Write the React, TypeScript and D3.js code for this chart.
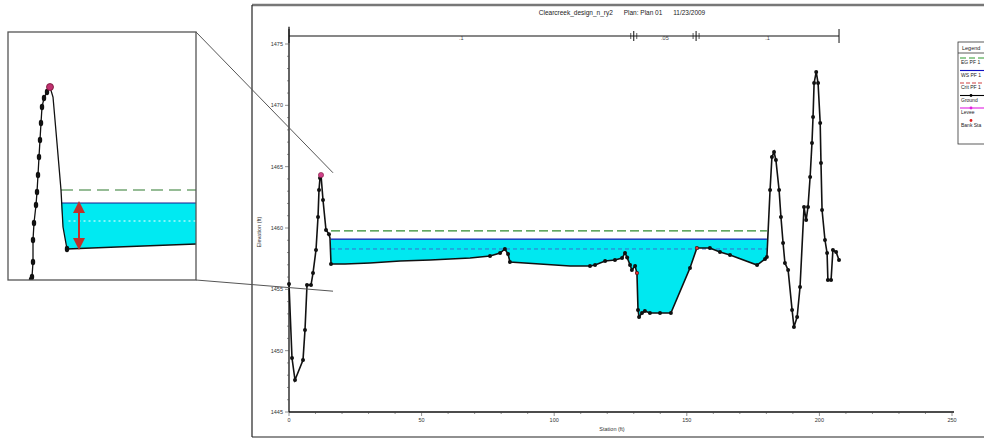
import React from "react";
import * as d3 from "d3";

const titleText = "Clearcreek_design_n_ry2      Plan: Plan 01      11/23/2009";
const xTicks = [0, 50, 100, 150, 200, 250];
const yTicks = [1445, 1450, 1455, 1460, 1465, 1470, 1475];

const groundStation = [0, 1.13, 2.26, 5.28, 6.03, 6.79, 8.3, 9.05, 10.18, 10.94, 11.31, 11.69, 12.07, 12.82, 13.95, 15.08, 15.46, 15.84, 21.1, 30.5, 41.9, 53.2, 68.3, 75.8, 79.6, 81.4, 82.6, 83.3, 94.6, 106.0, 113.5, 115.4, 119.2, 122.9, 125.6, 126.7, 127.5, 128.6, 129.3, 130.5, 131.2, 131.6, 132.0, 133.1, 134.2, 136.1, 139.9, 144.0, 151.2, 153.8, 158.7, 162.5, 166.3, 176.5, 179.5, 180.2, 181.4, 182.1, 182.9, 183.6, 184.8, 185.5, 186.3, 187.0, 188.2, 189.7, 190.4, 191.6, 192.7, 194.2, 195.0, 195.7, 196.5, 197.2, 197.6, 198.0, 198.8, 199.5, 200.3, 200.6, 201.0, 202.1, 202.9, 203.2, 204.4, 205.1, 206.3, 207.4];
const groundElev = [1455.43, 1449.4, 1447.61, 1449.24, 1451.68, 1455.35, 1455.35, 1456.33, 1458.21, 1460.9, 1463.1, 1464.08, 1464.32, 1462.28, 1459.84, 1459.5, 1459.18, 1457.06, 1457.06, 1457.15, 1457.31, 1457.39, 1457.55, 1457.72, 1457.96, 1458.29, 1457.88, 1457.23, 1457.06, 1456.9, 1456.9, 1456.98, 1457.31, 1457.39, 1457.55, 1457.96, 1457.6, 1456.98, 1456.58, 1456.9, 1456.33, 1453.32, 1452.74, 1453.07, 1453.23, 1453.07, 1453.07, 1453.07, 1456.74, 1458.37, 1458.37, 1458.04, 1457.8, 1456.98, 1457.47, 1457.64, 1463.1, 1465.79, 1466.2, 1465.54, 1463.1, 1460.9, 1458.78, 1457.15, 1456.58, 1453.32, 1451.93, 1452.74, 1455.19, 1461.71, 1460.65, 1461.71, 1464.16, 1466.93, 1469.05, 1471.82, 1472.72, 1471.82, 1468.56, 1465.3, 1461.47, 1459.02, 1457.96, 1455.76, 1455.76, 1458.21, 1458.04, 1457.39];
const groundDot = [1, 1, 1, 1, 1, 1, 1, 1, 1, 1, 1, 1, 1, 1, 1, 1, 0, 1, 0, 0, 0, 0, 0, 1, 1, 1, 1, 1, 0, 0, 1, 1, 1, 1, 1, 1, 1, 1, 1, 1, 1, 1, 1, 1, 1, 1, 1, 1, 1, 1, 1, 1, 1, 1, 1, 1, 1, 1, 1, 1, 1, 1, 1, 1, 1, 1, 1, 1, 1, 1, 1, 1, 1, 1, 1, 1, 1, 1, 1, 1, 1, 1, 1, 1, 1, 1, 1, 1];

const wsElev = 1459.1;
const egElev = 1459.76;
const critElev = 1458.29;
const waterLeft = 15.84;
const waterRight = 180.2;
const leveeStation = [12.07];
const leveeElev = [1464.32];
const bankStation = [131.2, 153.8];
const bankElev = [1456.33, 1458.37];

const nBreaks = [0, 130, 153.5, 207.4];
const nLabels = [".1", ".05", ".1"];

// inset (schematic zoom of left bank) in its own units 0..100
const insetX = [12.23, 12.77, 13.3, 13.3, 13.83, 14.89, 15.43, 15.96, 16.49, 17.02, 17.55, 18.09, 19.15, 20.74, 22.34, 23.94, 26.06, 28.19, 29.26, 31.38, 57.98, 100];
const insetY = [0, 1.21, 7.26, 16.13, 22.98, 30.24, 35.48, 42.34, 49.6, 56.45, 63.31, 69.76, 73.39, 75.81, 77.82, 73.79, 55.24, 36.29, 21.37, 12.5, 13.31, 14.52];
const insetDot = [1, 1, 1, 1, 1, 1, 1, 1, 1, 1, 1, 1, 1, 1, 0, 0, 0, 0, 0, 1, 0, 0];
const insetWS = 31.05;
const insetEG = 36.29;
const insetCrit = 23.79;
const insetWaterLeft = 28.19;
const insetArrowX = 37.77;
const insetArrowBottom = 12.9;
const insetPeak = [22.34, 77.82];
const insetTargetStation = 16.6;
const insetTargetTop = 1464.5;
const insetTargetBottom = 1454.85;

const legendLabels = ["EG PF 1", "WS PF 1", "Crit PF 1", "Ground", "Levee", "Bank Sta"];

const FONT = "'Liberation Sans', Arial, sans-serif";

export default function App() {
  const x = d3.scaleLinear().domain([0, 250]).range([289, 952]);
  const y = d3.scaleLinear().domain([1445, 1475]).range([412, 44]);

  const ground = groundStation.map((s, i) => ({ s, e: groundElev[i], dot: groundDot[i] }));
  const groundLine = d3.line<any>().x((d) => x(d.s)).y((d) => y(d.e));

  const wet = ground.filter((d) => d.s >= waterLeft && d.s <= waterRight);
  const waterArea = d3
    .area<any>()
    .x((d) => x(d.s))
    .y0((d) => y(Math.min(d.e, wsElev)))
    .y1(() => y(wsElev));

  const xMinor = d3.range(0, 251, 10);
  const yMinor = d3.range(1445, 1476, 1);

  const ix = d3.scaleLinear().domain([0, 100]).range([8, 196]);
  const iy = d3.scaleLinear().domain([0, 100]).range([280, 32]);
  const inset = insetX.map((v, i) => ({ s: v, e: insetY[i], dot: insetDot[i] }));
  const insetLine = d3.line<any>().x((d) => ix(d.s)).y((d) => iy(d.e));
  const insetWet = inset.filter((d) => d.s >= insetWaterLeft);
  const insetArea = d3
    .area<any>()
    .x((d) => ix(d.s))
    .y0((d) => iy(Math.min(d.e, insetWS)))
    .y1(() => iy(insetWS));

  const legendColors = ["#2e9a2e", "#1010c0", "#d04040", "#000000", "#e020e0", "#e02020"];
  const legendDash = ["6,3", "", "4,2", "", "", ""];

  return (
    <svg
      width={984}
      height={439}
      style={{ position: "absolute", left: 0, top: 0, background: "#fff" }}
      fontFamily={FONT}
    >
      <defs>
        <clipPath id="insetClip">
          <rect x={8} y={32} width={188} height={248} />
        </clipPath>
        <marker id="arrowHead" markerWidth="6" markerHeight="6" refX="3" refY="3" orient="auto-start-reverse">
          <path d="M0,0 L6,3 L0,6 z" fill="#c0302a" />
        </marker>
      </defs>

      <line x1={252} y1={5} x2={984} y2={5} stroke="#777" strokeWidth={2.5} />
      <line x1={252} y1={5} x2={252} y2={437} stroke="#222" strokeWidth={1.2} />
      <line x1={252} y1={437} x2={984} y2={437} stroke="#222" strokeWidth={1.2} />

      <text x={622} y={15} fontSize={6.5} textAnchor="middle" fill="#222" xmlSpace="preserve">
        {titleText}
      </text>

      <path d={waterArea(wet) || ""} fill="#00e8f0" />
      <line x1={x(waterLeft)} x2={x(waterRight)} y1={y(egElev)} y2={y(egElev)} stroke="#2e8a2e" strokeWidth={1.2} strokeDasharray="9,4" />
      <line x1={x(waterLeft)} x2={x(waterRight)} y1={y(wsElev)} y2={y(wsElev)} stroke="#1a1ab0" strokeWidth={1.2} />
      <line x1={x(waterLeft)} x2={x(waterRight)} y1={y(critElev)} y2={y(critElev)} stroke="#3b6fd0" strokeWidth={1} strokeDasharray="4,3" />

      <path d={groundLine(ground) || ""} fill="none" stroke="#111" strokeWidth={1.6} />
      {ground.filter((d) => d.dot).map((d, i) => (
        <circle key={i} cx={x(d.s)} cy={y(d.e)} r={2} fill="#111" />
      ))}
      {leveeStation.map((s, i) => (
        <circle key={"lv" + i} cx={x(s)} cy={y(leveeElev[i])} r={2.6} fill="#d0408a" stroke="#802040" strokeWidth={0.6} />
      ))}
      {bankStation.map((s, i) => (
        <circle key={"bk" + i} cx={x(s)} cy={y(bankElev[i])} r={1.6} fill="#e03030" />
      ))}

      <line x1={x(0)} x2={x(0)} y1={y(1445)} y2={y(1476.4)} stroke="#111" strokeWidth={1.3} />
      <line x1={x(0)} x2={x(250) + 2} y1={y(1445)} y2={y(1445)} stroke="#111" strokeWidth={1.3} />
      {yMinor.map((v) => (
        <line key={"ym" + v} x1={x(0) - (v % 5 === 0 ? 4 : 2)} x2={x(0)} y1={y(v)} y2={y(v)} stroke="#444" strokeWidth={0.6} />
      ))}
      {yTicks.map((v) => (
        <text key={"yt" + v} x={x(0) - 6} y={y(v) + 2} fontSize={5.5} textAnchor="end" fill="#333">
          {v}
        </text>
      ))}
      {xMinor.map((v) => (
        <line key={"xm" + v} x1={x(v)} x2={x(v)} y1={y(1445)} y2={y(1445) + (v % 50 === 0 ? 4 : 2)} stroke="#444" strokeWidth={0.6} />
      ))}
      {xTicks.map((v) => (
        <text key={"xt" + v} x={x(v)} y={y(1445) + 10} fontSize={5.5} textAnchor="middle" fill="#333">
          {v}
        </text>
      ))}
      <text x={612} y={431} fontSize={5.5} textAnchor="middle" fill="#333">
        Station (ft)
      </text>
      <text x={261} y={232} fontSize={5.5} textAnchor="middle" fill="#333" transform="rotate(-90 261 232)">
        Elevation (ft)
      </text>

      <line x1={x(nBreaks[0])} x2={x(nBreaks[nBreaks.length - 1])} y1={36} y2={36} stroke="#111" strokeWidth={1.2} />
      {nBreaks.map((b, i) => (
        <g key={"nb" + i}>
          <line x1={x(b)} x2={x(b)} y1={i === 0 || i === nBreaks.length - 1 ? 29 : 31} y2={i === 0 || i === nBreaks.length - 1 ? 43 : 41} stroke="#111" strokeWidth={1} />
          {i > 0 && i < nBreaks.length - 1 && (
            <>
              <line x1={x(b) - 3} x2={x(b) - 3} y1={33} y2={39} stroke="#111" strokeWidth={0.7} />
              <line x1={x(b) + 3} x2={x(b) + 3} y1={33} y2={39} stroke="#111" strokeWidth={0.7} />
            </>
          )}
        </g>
      ))}
      {nLabels.map((t, i) => (
        <text key={"nl" + i} x={x((nBreaks[i] + nBreaks[i + 1]) / 2)} y={40} fontSize={5.5} textAnchor="middle" fill="#444">
          {t}
        </text>
      ))}

      <rect x={958} y={42} width={40} height={102} fill="#fff" stroke="#333" strokeWidth={0.8} />
      <text x={962} y={50} fontSize={5.5} fill="#222">Legend</text>
      <line x1={958} x2={984} y1={53} y2={53} stroke="#333" strokeWidth={0.8} />
      {legendLabels.map((l, i) => {
        const ly = 58 + i * 12.5;
        return (
          <g key={"lg" + i}>
            {i < 5 && (
              <line x1={960} x2={984} y1={ly} y2={ly} stroke={legendColors[i]} strokeWidth={1.1} strokeDasharray={legendDash[i]} />
            )}
            {(i === 3 || i === 4 || i === 5) && <circle cx={971} cy={ly} r={1.4} fill={legendColors[i]} />}
            <text x={961} y={ly + 6} fontSize={5} fill="#222">{l}</text>
          </g>
        );
      })}

      <line x1={196} y1={32} x2={x(insetTargetStation)} y2={y(insetTargetTop)} stroke="#555" strokeWidth={1} />
      <line x1={196} y1={280} x2={x(insetTargetStation)} y2={y(insetTargetBottom)} stroke="#555" strokeWidth={1} />

      <rect x={8} y={32} width={188} height={248} fill="#fff" />
      <g clipPath="url(#insetClip)">
        <path d={insetArea(insetWet) || ""} fill="#00eaf2" />
        <line x1={ix(insetWaterLeft)} x2={ix(100)} y1={iy(insetEG)} y2={iy(insetEG)} stroke="#2e7a2e" strokeWidth={1.2} strokeDasharray="12,6" />
        <line x1={ix(insetWaterLeft)} x2={ix(100)} y1={iy(insetWS)} y2={iy(insetWS)} stroke="#1a1a90" strokeWidth={1.2} />
        <line x1={ix(insetWaterLeft + 4)} x2={ix(100)} y1={iy(insetCrit)} y2={iy(insetCrit)} stroke="#fff" strokeWidth={1.2} strokeDasharray="2,3" />
        <path d={insetLine(inset) || ""} fill="none" stroke="#111" strokeWidth={1.3} />
        {inset.filter((d) => d.dot).map((d, i) => (
          <ellipse key={"id" + i} cx={ix(d.s)} cy={iy(d.e)} rx={2.2} ry={3.2} fill="#111" />
        ))}
        <circle cx={ix(insetPeak[0])} cy={iy(insetPeak[1])} r={3.5} fill="#c03070" stroke="#701030" strokeWidth={0.8} />
        <line
          x1={ix(insetArrowX)}
          x2={ix(insetArrowX)}
          y1={iy(insetWS) + 4}
          y2={iy(insetArrowBottom) - 4}
          stroke="#c0302a"
          strokeWidth={2}
          markerStart="url(#arrowHead)"
          markerEnd="url(#arrowHead)"
        />
      </g>
      <rect x={8} y={32} width={188} height={248} fill="none" stroke="#555" strokeWidth={1.3} />
    </svg>
  );
}
